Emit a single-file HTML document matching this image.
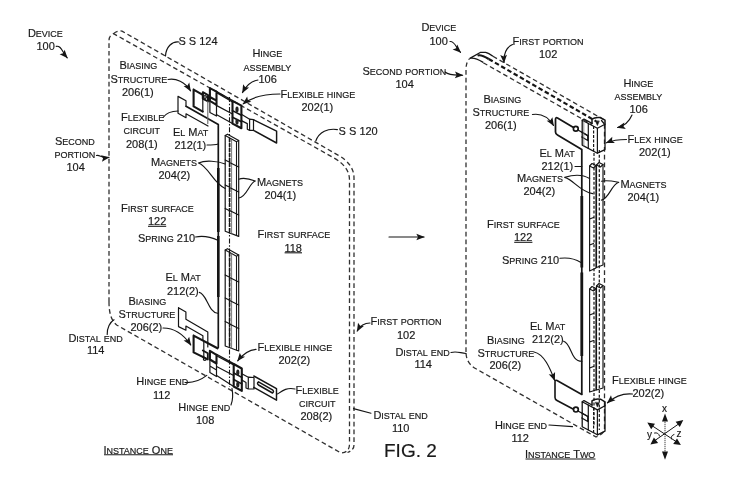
<!DOCTYPE html>
<html><head><meta charset="utf-8"><style>
html,body{margin:0;padding:0;background:#fff;width:741px;height:492px;overflow:hidden}
svg{display:block;will-change:transform}
text{font-family:"Liberation Sans",sans-serif;font-size:9px;fill:#1a1a1a;stroke:#1a1a1a;stroke-width:0.18px}
</style></head><body>
<svg width="741" height="492" viewBox="0 0 741 492">
<g fill="none" stroke="#151515" stroke-width="1.2" stroke-linecap="round" stroke-linejoin="round">
<defs>
<marker id="ah" markerUnits="userSpaceOnUse" markerWidth="12" markerHeight="12" viewBox="-9 -5 10 10" refX="0" refY="0" orient="auto">
<path d="M0.6,0 L-6.4,-2.8 L-5,0 L-6.4,2.8 Z" fill="#151515" stroke="none"/>
</marker>
</defs>
<!-- ===== LEFT INSTANCE OUTLINE ===== -->
<g stroke-dasharray="4.7 3" stroke-width="1.3" stroke-linecap="butt" stroke="#303030">
<path d="M109,302 L109,40.5 Q109,35.5 113.5,33.6 L334,158 Q349.5,166.8 349.5,180 L349.5,444 Q349.5,452.5 341,453 L117,325.2 Q109,319.5 109,302"/>
<path d="M113.5,33.6 Q117,30.3 122,31.1 L338,155.1 Q354,164.2 354,178 L354,445 Q354,450 347.5,452.5"/>
</g>
<!-- ===== RIGHT INSTANCE OUTLINE ===== -->
<g stroke-dasharray="4.7 3" stroke-width="1.3" stroke-linecap="butt" stroke="#303030">
<path d="M466,352 L466,70 Q466,61.5 469.8,58.4"/>
<path d="M483.2,62.7 L592,124.5"/>
<path d="M492.9,56.3 L604,119.8"/>
<path d="M604.5,124 L604.5,428 Q604.5,434 596,437 L475.5,368.5 Q466,363 466,352"/>
</g>
<path d="M469.8,58.4 L480.7,52.3 L485.6,52.3 Q488.5,52.8 492.9,56.3 M469.8,58.4 Q474.5,57.2 483.2,62.4" stroke-width="1.3" stroke-linecap="butt"/>
<path d="M477.5,55.6 Q481,54.2 488.7,59" stroke-width="2.2" stroke-linecap="butt"/>
<path d="M488.7,59 L596,121.2" stroke-dasharray="4.6 2.6" stroke-width="2.2" stroke-linecap="butt"/>
<!-- ===== LEFT INTERNALS ===== -->
<!-- center axis dash-dot -->
<path d="M229.5,97 L229.5,387" stroke-width="1.1" stroke-dasharray="5 1.8 1.5 1.8" stroke-linecap="butt"/>
<!-- el mat line -->
<path d="M186,106.3 L218.3,124.5 L218.3,347.5" stroke-width="1.7"/>
<path d="M218.3,168 L218.3,232 M218.3,236 L218.3,297" stroke-width="2.6" stroke-linecap="butt"/>
<!-- flex circuit 208(1) tab -->
<path d="M178,96.4 L186,100.8 L186,106.3 M178,96.4 L178,113.3 L186,117.7 L186,113.8 L208,126" stroke-width="1.2"/>
<!-- biasing 206(1) plate -->
<path d="M193.6,89.6 L202.8,94.8 M193.6,89.6 L193.6,106.4 L202.8,111.6" stroke-width="2.1"/>
<path d="M202.8,94.8 L202.8,111.6" stroke-width="1.2"/>
<path d="M202.8,92.2 L208,95.2 L208,101.5 L202.8,98.6 Z" stroke-width="2"/>
<circle cx="205" cy="97" r="1.4" stroke-width="1.3"/>
<path d="M207.8,101.5 L207.8,123.6" stroke-width="1.1" stroke="#666"/>
<path d="M209.9,100.8 L209.9,88.1 L216.5,91.6 L216.5,104.8 Z M209.9,97 L216.5,100.7" stroke-width="2.1"/>
<path d="M209.9,100.8 L209.9,112.5 L216.5,116 L216.5,104.8" stroke-width="1.2"/>
<!-- middle plate 1 -->
<path d="M216.3,91.2 L232.5,100.6 M217,93 L232.5,102 M216.3,105.4 L232.5,114 M216.3,114.6 L232.5,123.6" stroke-width="1.2"/>
<!-- right hinge block 1 -->
<path d="M232.5,100.9 L241.4,105.6 L241.4,128.3 L232.5,123.6 Z" stroke-width="2.1"/>
<path d="M232.5,110.6 L241.4,115.2 M232.5,117.2 L241.4,121.8" stroke-width="1.6"/>
<ellipse cx="237" cy="109.5" rx="1.6" ry="3" fill="#222" stroke="none"/>
<ellipse cx="237" cy="121.8" rx="1.6" ry="3" fill="#222" stroke="none"/>
<!-- strip right 1 -->
<path d="M241.4,114.2 L249.6,119.2 L249.6,130.2 M241.4,120.6 L247.3,123.6 L247.3,129.3 L249.6,130.4 L253.5,130.4 L253.5,119.7 L249.6,119.2" stroke-width="1.2"/>
<path d="M253.5,119.7 L276.6,131.1 L276.6,143 L253.5,130.4" stroke-width="1.45"/>
<!-- magnet bar 1 -->
<path d="M225.2,135.5 L227.5,134.2 L238.7,140.4 L238.7,236.4 L225.2,231.3 Z" stroke-width="1.2"/>
<path d="M225.2,135.5 L236.5,141.7 L238.7,140.4 M236.5,141.7 L236.5,235.4" stroke-width="1.1"/>
<path d="M231.6,139.0 L231.6,233.8" stroke-width="0.8" stroke="#555"/>
<path d="M229.6,138.0 L229.6,233.3" stroke-width="1.6" stroke-dasharray="4 1" stroke-linecap="butt"/>
<path d="M225.2,160 L229.6,162.2 M225.2,185 L229.6,187.2 M225.2,208.5 L229.6,210.7 M229.6,162.5 L238.7,167.0 M229.6,187.5 L238.7,192.0 M229.6,210.5 L238.7,215.0" stroke-width="1.2"/>
<!-- magnet bar 2 -->
<path d="M225.2,250 L227.5,248.7 L238.7,254.9 L238.7,351 L225.2,346 Z" stroke-width="1.2"/>
<path d="M225.2,250 L236.5,256.2 L238.7,254.9 M236.5,256.2 L236.5,350" stroke-width="1.1"/>
<path d="M231.6,253.5 L231.6,348.5" stroke-width="0.8" stroke="#555"/>
<path d="M229.6,252.5 L229.6,348" stroke-width="1.6" stroke-dasharray="4 1" stroke-linecap="butt"/>
<path d="M225.2,275 L229.6,277.2 M225.2,298 L229.6,300.2 M225.2,321.5 L229.6,323.7 M229.6,277.5 L238.7,282.0 M229.6,300.5 L238.7,305.0 M229.6,324 L238.7,328.5" stroke-width="1.2"/>
<!-- flex circuit lower tab (208 region near bottom) -->
<path d="M178.5,307.7 L185.9,312 L185.9,319.3 L207.8,332 L207.8,347 M178.5,307.7 L178.5,326.6 L185.9,330.2 L185.9,326 L202.9,335.7 L202.9,340" stroke-width="1.2"/>
<!-- biasing 206(2) plate -->
<path d="M193.6,335.6 L217.5,348.3 M193.6,335.6 L193.6,352.4 L203.8,357.4" stroke-width="2.1"/>
<path d="M203.8,341 L203.8,357.4" stroke-width="1.2"/>
<path d="M202.8,350.5 L207.8,353.3 L207.8,359.5 L202.8,356.7" stroke-width="1.8"/>
<circle cx="204.8" cy="359" r="1.4" stroke-width="1.3"/>
<path d="M209.9,359.5 L209.9,350.8 L216.5,354.9 L216.5,363.5 Z" stroke-width="2.1"/>
<path d="M209.9,359.5 L209.9,372.5 L216.5,376.5 L216.5,363.5 M209.9,366 L216.5,370" stroke-width="1.2"/>
<!-- middle plate 2 -->
<path d="M216.6,354.3 L233.7,363.6 M217,356 L233.7,365 M216.6,366.5 L233.7,375.5 M216.6,375.4 L233.7,386.5" stroke-width="1.2"/>
<!-- right hinge block 2 -->
<path d="M233.7,364 L241.8,368.5 L241.8,390.9 L233.7,386.5 Z" stroke-width="2.1"/>
<path d="M233.7,373 L241.8,377.4 M233.7,379.5 L241.8,383.9" stroke-width="1.6"/>
<ellipse cx="237.8" cy="372.5" rx="1.6" ry="3" fill="#222" stroke="none"/>
<ellipse cx="237.8" cy="384.5" rx="1.6" ry="3" fill="#222" stroke="none"/>
<!-- strip right 2 + flex circuit 208(2) -->
<path d="M241.8,373.8 L248.3,377.2 L248.3,388 M241.8,380 L246,382.5 L246,388 L248.3,389 L254,389 L254,377.5 L248.3,377.2" stroke-width="1.2"/>
<path d="M253.8,376 L276.5,388.6 L276.5,400.2 L253.8,387.4" stroke-width="1.45"/>
<path d="M258.5,381.8 L272.5,389.8 Q274.5,391.8 272.5,393 L258.5,385 Q256.5,383.3 258.5,381.8 Z" stroke-width="1.5"/>
<!-- ===== LEFT LEADERS ===== -->
<g stroke-width="1.15">
<path d="M56.2,46.4 C61,45 62.5,52.5 67.2,57.8" marker-end="url(#ah)"/>
<path d="M179,42 C172,41 166,47 165.5,56"/>
<path d="M258,80 C252,81 246,86 242.5,92.6" marker-end="url(#ah)"/>
<path d="M280,94 C265,94 252,97 243.2,103.9" marker-end="url(#ah)"/>
<path d="M168,79.5 C176,78 185,82 190.5,90.8" marker-end="url(#ah)"/>
<path d="M163,117.5 C167,112 172,111 178,111"/>
<path d="M207,145 C212,145 215,145 218.3,144"/>
<path d="M198.5,163 C205,160 218,161 225.2,164 M198.5,163 C208,166 214,184 225.2,188.5"/>
<path d="M255.3,181 C250,179 244,177 238.7,179.3 M255.3,181 C249,183 247,197 238.7,198"/>
<path d="M195.5,237 C205,235 213,238 218.3,240.5"/>
<path d="M96.5,155.5 C100,154.5 101.5,158.5 109,157.3" marker-end="url(#ah)"/>
<path d="M337.4,129.6 C328,128 319,132 315.8,141"/>
<path d="M370,323 C365,323 360,326 357.2,331" marker-end="url(#ah)"/>
<path d="M107.2,334.5 C107,328 110,322 114,319.7"/>
<path d="M199.3,292.4 C207,294 208,312 217.6,313.2"/>
<path d="M163,328 C175,328 184,335 190.7,344.9" marker-end="url(#ah)"/>
<path d="M256,349.4 C249,350 243,354 237.7,360.8" marker-end="url(#ah)"/>
<path d="M185,382.5 C194,383 201,380 206.8,375.4"/>
<path d="M231,405 C233,400 233,394 232,388.4"/>
<path d="M295,389 C287,387 282,391 277.6,394"/>
<path d="M353.5,408.6 L371,413.2"/>
<path d="M389,237 L424,237" marker-end="url(#ah)"/>
</g>
<!-- ===== RIGHT INTERNALS ===== -->
<!-- biasing 206(1) plate -->
<path d="M573.5,127.5 L557.5,118 Q555.5,117 555.5,119.5 L555.5,132 Q555.5,134 557.5,135 L581.8,149.5 L581.8,394" stroke-width="1.75"/>
<path d="M581.8,196 L581.8,267.5 M581.8,272.5 L581.8,356" stroke-width="2.8" stroke-linecap="butt"/>
<circle cx="575.8" cy="128.8" r="2.4" stroke-width="1.7"/>
<path d="M578,130 L588,135.8" stroke-width="1.35"/>
<path d="M581.8,132 L587.8,135.5 L587.8,140.5 L581.8,137" stroke-width="1.35"/>
<!-- hinge block 1 -->
<path d="M582.2,120.2 L597.4,128.3 L605,124.2 L605,149.6 L597.4,153.2 L582.2,145.1 Z" stroke-width="1.3"/>
<path d="M582.2,120.2 L584,119 L592,123.4 M597.4,128.3 L597.4,153.2 M588.3,123.4 L588.3,148.4" stroke-width="1.2"/>
<path d="M583.8,121 L583.8,146" stroke-width="0.8" stroke="#777"/>
<path d="M592,123.6 L592,119.2 Q595,116.8 600.5,117.6 L605,120.2 L605,124.2" stroke-width="1.5"/>
<path d="M595.5,121 L597.4,125.5 L599.2,121.3 Z" fill="#151515" stroke-width="0.6"/>
<path d="M601.5,120.5 L604,123.5" stroke-width="1.3"/>
<path d="M593.6,126 L593.6,152" stroke-width="1.2" stroke-dasharray="3 1.5" stroke-linecap="butt"/>
<!-- dashed verticals right edge between -->
<path d="M594,153 L594,426 M599.3,150 L599.3,430" stroke-width="1.2" stroke-dasharray="3 1.8" stroke-linecap="butt"/>
<!-- magnet columns upper -->
<path d="M589.6,166 L592,163.5 L596,165.5 L596,268 L589.6,271 Z" stroke-width="1.15"/>
<path d="M589.6,166 L593.5,168 L596,165.5 " stroke-width="1.1"/>
<path d="M596.5,165 L599,162.5 L603,164.5 L603,265 L596.5,267.5 Z" stroke-width="1.15"/>
<path d="M596.5,165 L600.5,167 L603,164.5 " stroke-width="1.1"/>
<path d="M589.6,219 L593.5,217.5 M589.6,245 L593.5,243.5" stroke-width="1.2"/>
<!-- magnet columns lower -->
<path d="M589.6,289 L592,286.5 L596,288.5 L596,390 L589.6,392 Z" stroke-width="1.15"/>
<path d="M589.6,289 L593.5,291 L596,288.5 " stroke-width="1.1"/>
<path d="M596.5,286 L599,283.5 L603,285.5 L603,388 L596.5,390 Z" stroke-width="1.15"/>
<path d="M596.5,286 L600.5,288 L603,285.5 " stroke-width="1.1"/>
<path d="M589.6,315 L593.5,313.5 M589.6,342 L593.5,340.5 M589.6,368 L593.5,366.5" stroke-width="1.2"/>
<!-- biasing 206(2) plate -->
<path d="M581.8,394.5 L557,380.5 Q555,379.5 555,382 L555,397.5 Q555,399.5 557,400.5 L573,409" stroke-width="1.6"/>
<circle cx="575.9" cy="409.6" r="2.4" stroke-width="1.7"/>
<path d="M578,411 L588,416.5" stroke-width="1.35"/>
<path d="M581.8,413 L587.8,416.5 L587.8,421.5 L581.8,418" stroke-width="1.35"/>
<!-- hinge block 2 -->
<path d="M582.2,401.8 L597.4,409.9 L605,405.8 L605,431.2 L597.4,434.8 L582.2,426.7 Z" stroke-width="1.3"/>
<path d="M582.2,401.8 L584,400.6 L592,405.0 M597.4,409.9 L597.4,434.8 M588.3,405.0 L588.3,430.0" stroke-width="1.2"/>
<path d="M592,405.2 L592,400.8 Q595,398.4 600.5,399.2 L605,401.8 L605,405.8" stroke-width="1.5"/>
<path d="M595.5,402.6 L597.4,407.1 L599.2,402.9 Z" fill="#151515" stroke-width="0.6"/>
<path d="M593.6,407.6 L593.6,433" stroke-width="1.2" stroke-dasharray="3 1.5" stroke-linecap="butt"/>
<!-- ===== RIGHT LEADERS ===== -->
<g stroke-width="1.15">
<path d="M450,41.5 C455,41 456,48 460.5,52.3" marker-end="url(#ah)"/>
<path d="M512.5,44.5 C507,47 503.5,53 504,62.5" marker-end="url(#ah)"/>
<path d="M445,72 C450,76 456,75 462.6,75.2" marker-end="url(#ah)"/>
<path d="M632,115 C629,122 624,126 617.6,127.5" marker-end="url(#ah)"/>
<path d="M532.4,114.5 C542,113 549,118 553.5,125.5" marker-end="url(#ah)"/>
<path d="M626.5,139.5 C620,139.5 612,140.5 606.5,142.8" marker-end="url(#ah)"/>
<path d="M575,166.5 L581.8,166.5"/>
<path d="M564.7,177.4 C572,175 582,174 589.6,178.5 M564.7,177.4 C574,180 580,192 592.8,193.6"/>
<path d="M618.7,182.3 C612,181 607,180 601.4,181.2 M618.7,182.3 C611,185 609,199 601.4,200.1"/>
<path d="M560,258.3 C570,257 577,260 581,262.4"/>
<path d="M563.6,341.2 C572,344 570,361 581.9,361.3"/>
<path d="M534,352 C544,354 550,368 554.6,380.3" marker-end="url(#ah)"/>
<path d="M451,352.5 C457,351 460,353 466,353.5"/>
<path d="M632.5,394 C622,393 614,397 607.5,402.8" marker-end="url(#ah)"/>
<path d="M549,425 L572.5,426.6"/>
</g>
<!-- axis icon -->
<g stroke-width="1">
<path d="M665,420 L665,453" stroke="#555" stroke-width="1.1" stroke-dasharray="1.2 0.8" stroke-linecap="butt"/>
<path d="M651,425 L677.5,442.5 M680,423 L653.5,441.5" stroke-width="1"/>
</g>
<g fill="#151515" stroke="none">
<path d="M665,413.4 L662,421.6 L668,421.6 Z M665,459.8 L662,451.6 L668,451.6 Z"/>
<path d="M647.3,422.6 L651.2,429.3 L655,423.7 Z M680.9,445.1 L677,438.4 L673.2,444 Z"/>
<path d="M683.3,420.1 L675.6,421.7 L679.8,427 Z M650.4,444.5 L658.1,442.9 L653.9,437.6 Z"/>
</g>
<path d="M654.5,433 Q658.5,432 659.5,436 M674,434.5 Q670.5,435.5 671.5,439" stroke-width="1"/>

</g>
<text x="27.9" y="37"><tspan font-size="11">D</tspan>EVICE</text>
<text x="36.4" y="50"><tspan font-size="11">100</tspan></text>
<text x="178.4" y="45"><tspan font-size="11">S S 124</tspan></text>
<text x="252.4" y="57"><tspan font-size="11">H</tspan>INGE</text>
<text x="243.4" y="70.5">ASSEMBLY</text>
<text x="258.4" y="83"><tspan font-size="11">106</tspan></text>
<text x="119.4" y="69"><tspan font-size="11">B</tspan>IASING</text>
<text x="110.4" y="82.5"><tspan font-size="11">S</tspan>TRUCTURE</text>
<text x="121.9" y="96"><tspan font-size="11">206(1)</tspan></text>
<text x="280.4" y="97.5"><tspan font-size="11">F</tspan>LEXIBLE<tspan font-size="11"> </tspan>HINGE</text>
<text x="301.4" y="111"><tspan font-size="11">202(1)</tspan></text>
<text x="120.9" y="120.5"><tspan font-size="11">F</tspan>LEXIBLE</text>
<text x="123.4" y="133.5">CIRCUIT</text>
<text x="125.9" y="147.5"><tspan font-size="11">208(1)</tspan></text>
<text x="172.9" y="136"><tspan font-size="11">E</tspan>L<tspan font-size="11"> M</tspan>AT</text>
<text x="174.4" y="149"><tspan font-size="11">212(1)</tspan></text>
<text x="338.59999999999997" y="134.8"><tspan font-size="11">S S 120</tspan></text>
<text x="54.9" y="145"><tspan font-size="11">S</tspan>ECOND</text>
<text x="54.4" y="157.5">PORTION</text>
<text x="66.4" y="170.5"><tspan font-size="11">104</tspan></text>
<text x="150.9" y="166"><tspan font-size="11">M</tspan>AGNETS</text>
<text x="158.4" y="179"><tspan font-size="11">204(2)</tspan></text>
<text x="256.9" y="186"><tspan font-size="11">M</tspan>AGNETS</text>
<text x="264.4" y="199"><tspan font-size="11">204(1)</tspan></text>
<text x="120.9" y="211.5"><tspan font-size="11">F</tspan>IRST<tspan font-size="11"> </tspan>SURFACE</text>
<text x="147.9" y="225"><tspan font-size="11">122</tspan></text>
<text x="257.4" y="238"><tspan font-size="11">F</tspan>IRST<tspan font-size="11"> </tspan>SURFACE</text>
<text x="284.4" y="251.5"><tspan font-size="11">118</tspan></text>
<text x="137.9" y="241.5"><tspan font-size="11">S</tspan>PRING<tspan font-size="11"> 210</tspan></text>
<text x="165.4" y="281"><tspan font-size="11">E</tspan>L<tspan font-size="11"> M</tspan>AT</text>
<text x="166.9" y="294.5"><tspan font-size="11">212(2)</tspan></text>
<text x="128.4" y="305"><tspan font-size="11">B</tspan>IASING</text>
<text x="118.4" y="318"><tspan font-size="11">S</tspan>TRUCTURE</text>
<text x="130.4" y="331"><tspan font-size="11">206(2)</tspan></text>
<text x="68.4" y="341.75"><tspan font-size="11">D</tspan>ISTAL<tspan font-size="11"> </tspan>END</text>
<text x="86.9" y="354"><tspan font-size="11">114</tspan></text>
<text x="370.4" y="325"><tspan font-size="11">F</tspan>IRST<tspan font-size="11"> </tspan>PORTION</text>
<text x="396.9" y="338.5"><tspan font-size="11">102</tspan></text>
<text x="257.4" y="351"><tspan font-size="11">F</tspan>LEXIBLE<tspan font-size="11"> </tspan>HINGE</text>
<text x="278.4" y="364"><tspan font-size="11">202(2)</tspan></text>
<text x="136.20000000000002" y="385.4"><tspan font-size="11">H</tspan>INGE<tspan font-size="11"> </tspan>END</text>
<text x="152.9" y="398.8"><tspan font-size="11">112</tspan></text>
<text x="178.20000000000002" y="411"><tspan font-size="11">H</tspan>INGE<tspan font-size="11"> </tspan>END</text>
<text x="195.9" y="424"><tspan font-size="11">108</tspan></text>
<text x="295.4" y="393.5"><tspan font-size="11">F</tspan>LEXIBLE</text>
<text x="298.9" y="406.5">CIRCUIT</text>
<text x="300.4" y="420"><tspan font-size="11">208(2)</tspan></text>
<text x="373.4" y="419"><tspan font-size="11">D</tspan>ISTAL<tspan font-size="11"> </tspan>END</text>
<text x="391.9" y="431.5"><tspan font-size="11">110</tspan></text>
<text x="103.4" y="453.5"><tspan font-size="11">I</tspan>NSTANCE<tspan font-size="11"> O</tspan>NE</text>
<text x="421.4" y="31"><tspan font-size="11">D</tspan>EVICE</text>
<text x="429.4" y="45"><tspan font-size="11">100</tspan></text>
<text x="512.4" y="44.5"><tspan font-size="11">F</tspan>IRST<tspan font-size="11"> </tspan>PORTION</text>
<text x="538.9" y="58"><tspan font-size="11">102</tspan></text>
<text x="362.4" y="75"><tspan font-size="11">S</tspan>ECOND<tspan font-size="11"> </tspan>PORTION</text>
<text x="395.4" y="88"><tspan font-size="11">104</tspan></text>
<text x="623.4" y="87"><tspan font-size="11">H</tspan>INGE</text>
<text x="614.4" y="100">ASSEMBLY</text>
<text x="629.4" y="113"><tspan font-size="11">106</tspan></text>
<text x="483.4" y="103"><tspan font-size="11">B</tspan>IASING</text>
<text x="472.4" y="116"><tspan font-size="11">S</tspan>TRUCTURE</text>
<text x="484.9" y="129"><tspan font-size="11">206(1)</tspan></text>
<text x="627.4" y="143"><tspan font-size="11">F</tspan>LEX<tspan font-size="11"> </tspan>HINGE</text>
<text x="638.9" y="156"><tspan font-size="11">202(1)</tspan></text>
<text x="539.4" y="157"><tspan font-size="11">E</tspan>L<tspan font-size="11"> M</tspan>AT</text>
<text x="541.4" y="170"><tspan font-size="11">212(1)</tspan></text>
<text x="516.9" y="182"><tspan font-size="11">M</tspan>AGNETS</text>
<text x="523.4" y="195"><tspan font-size="11">204(2)</tspan></text>
<text x="620.4" y="187.5"><tspan font-size="11">M</tspan>AGNETS</text>
<text x="627.4" y="201"><tspan font-size="11">204(1)</tspan></text>
<text x="486.9" y="228"><tspan font-size="11">F</tspan>IRST<tspan font-size="11"> </tspan>SURFACE</text>
<text x="513.9" y="241"><tspan font-size="11">122</tspan></text>
<text x="501.9" y="264"><tspan font-size="11">S</tspan>PRING<tspan font-size="11"> 210</tspan></text>
<text x="529.9" y="330"><tspan font-size="11">E</tspan>L<tspan font-size="11"> M</tspan>AT</text>
<text x="531.9" y="343"><tspan font-size="11">212(2)</tspan></text>
<text x="486.9" y="343.5"><tspan font-size="11">B</tspan>IASING</text>
<text x="477.4" y="357"><tspan font-size="11">S</tspan>TRUCTURE</text>
<text x="489.4" y="368.5"><tspan font-size="11">206(2)</tspan></text>
<text x="395.4" y="355.5"><tspan font-size="11">D</tspan>ISTAL<tspan font-size="11"> </tspan>END</text>
<text x="414.4" y="368"><tspan font-size="11">114</tspan></text>
<text x="611.9" y="384"><tspan font-size="11">F</tspan>LEXIBLE<tspan font-size="11"> </tspan>HINGE</text>
<text x="632.4" y="397"><tspan font-size="11">202(2)</tspan></text>
<text x="494.9" y="428.5"><tspan font-size="11">H</tspan>INGE<tspan font-size="11"> </tspan>END</text>
<text x="511.4" y="441.5"><tspan font-size="11">112</tspan></text>
<text x="524.9" y="457.75"><tspan font-size="11">I</tspan>NSTANCE<tspan font-size="11"> T</tspan>WO</text>
<text x="662" y="411.8" style="font-size:10px">x</text><text x="647" y="437.6" style="font-size:10px">y</text><text x="676.6" y="437.4" style="font-size:10px">z</text>
<path d="M148,226.3 L166.2,226.3" stroke="#1a1a1a" stroke-width="1.1"/>
<path d="M284.6,252.8 L302,252.8" stroke="#1a1a1a" stroke-width="1.1"/>
<path d="M104,454.8 L173,454.8" stroke="#1a1a1a" stroke-width="1.1"/>
<path d="M514.2,242.3 L532.4,242.3" stroke="#1a1a1a" stroke-width="1.1"/>
<path d="M525.5,459 L595.5,459" stroke="#1a1a1a" stroke-width="1.1"/>
<text x="384" y="457" style="font-size:19px">FIG. 2</text>
</svg>
</body></html>
